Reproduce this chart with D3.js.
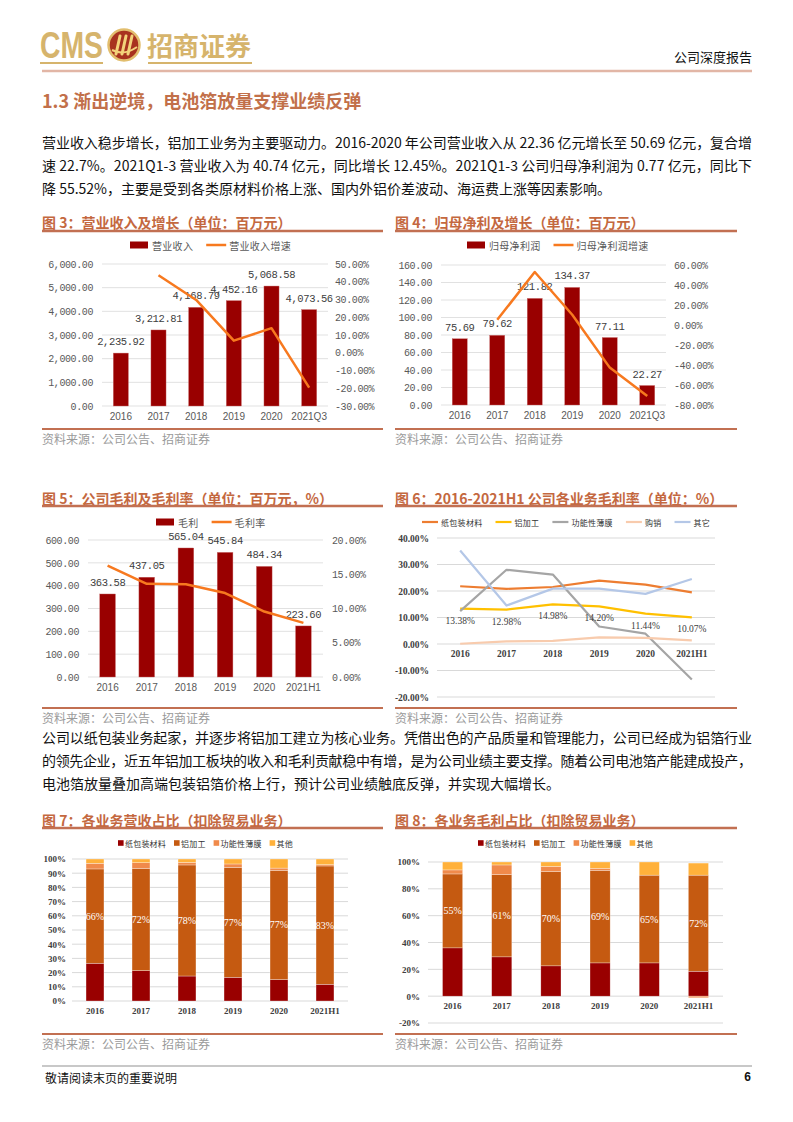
<!DOCTYPE html>
<html><head><meta charset="utf-8">
<script src="https://cdn.jsdelivr.net/npm/d3@7"></script>
<style>body{margin:0;background:#fff}</style>
</head><body><svg id="page" width="793" height="1122" xmlns="http://www.w3.org/2000/svg"></svg>
<script>
// ---------------- data ----------------
const yearsQ3 = ["2016","2017","2018","2019","2020","2021Q3"];
const yearsH1 = ["2016","2017","2018","2019","2020","2021H1"];
const revenue = [2235.92,3212.81,4168.79,4452.16,5068.58,4073.56];
const revenueGrowth = [null,43.69,29.74,6.80,13.85,-19.63];
const netProfit = [75.69,79.62,121.82,134.37,77.11,22.27];
const netProfitGrowth = [null,5.19,53.00,10.30,-42.61,-71.12];
const grossProfit = [363.58,437.05,565.04,545.84,484.34,223.60];
const grossMargin = [16.26,13.60,13.55,12.26,9.56,7.90];

const segNames6 = ["纸包装材料","铝加工","功能性薄膜","购销","其它"];
const marginPaper = [21.8,20.8,21.5,23.9,22.4,19.5];
const marginAlu = [13.38,12.98,14.98,14.20,11.44,10.07];
const marginFilm = [12.4,28.0,26.2,6.6,3.9,-13.4];
const marginTrade = [0.1,1.0,1.2,2.5,2.3,1.4];
const marginOther = [35.3,14.5,20.9,20.9,18.9,24.5];

const segNames = ["纸包装材料","铝加工","功能性薄膜","其他"];
const revSharePaper = [26.6,21.4,17.6,16.7,15.1,11.8];
const revShareAlu = [66.4,72.0,78.2,77.4,76.9,83.3];
const revShareFilm = [4.0,4.0,1.8,2.4,1.6,0.9];
const revShareOther = [3.0,2.6,2.4,3.5,6.4,4.0];
const gpSharePaper = [36.0,29.3,22.6,24.8,24.8,18.6];
const gpShareAlu = [55.1,61.3,70.4,69.0,65.4,71.6];
const gpShareFilm = [3.0,7.2,3.7,1.5,0.0,-1.2];
const gpShareOther = [5.9,2.2,3.3,4.7,9.8,9.0];

const para1 = [
 "营业收入稳步增长，铝加工业务为主要驱动力。2016-2020 年公司营业收入从 22.36 亿元增长至 50.69 亿元，复合增",
 "速 22.7%。2021Q1-3 营业收入为 40.74 亿元，同比增长 12.45%。2021Q1-3 公司归母净利润为 0.77 亿元，同比下",
 "降 55.52%，主要是受到各类原材料价格上涨、国内外铝价差波动、海运费上涨等因素影响。"
];
const para2 = [
 "公司以纸包装业务起家，并逐步将铝加工建立为核心业务。凭借出色的产品质量和管理能力，公司已经成为铝箔行业",
 "的领先企业，近五年铝加工板块的收入和毛利贡献稳中有增，是为公司业绩主要支撑。随着公司电池箔产能建成投产，",
 "电池箔放量叠加高端包装铝箔价格上行，预计公司业绩触底反弹，并实现大幅增长。"
];

// ---------------- styles ----------------
const CJK = "'Noto Sans CJK SC','Noto Sans',sans-serif";
const MONO = "'Liberation Mono','DejaVu Sans Mono',monospace";
const SERIF = "'Liberation Serif','Times New Roman',serif";
const ARIAL = "'Liberation Sans',Arial,sans-serif";
const GOLD = "#d6b46c", TITLE = "#c4683f", RULE = "#c27052";
const BAR = "#990000", LINE = "#f7791f";

const svg = d3.select("#page");
svg.append("rect").attr("width",793).attr("height",1122).attr("fill","#fff");

function txt(g,x,y,s,o={}){
  const t=g.append("text").attr("x",x).attr("y",y).attr("dominant-baseline","central").text(s);
  for(const k in o) t.attr(k,o[k]);
  return t;
}

// ---------------- header ----------------
txt(svg,40,45,"CMS",{"font-family":ARIAL,"font-weight":"bold","font-size":36,fill:GOLD,textLength:63,lengthAdjust:"spacingAndGlyphs"});
svg.append("rect").attr("x",40).attr("y",62).attr("width",63).attr("height",2).attr("fill",GOLD);
svg.append("circle").attr("cx",124).attr("cy",45).attr("r",15.5).attr("fill","#a8321f").attr("stroke","#e2be6e").attr("stroke-width",2.5);
// emblem strokes
[-6,0,6].forEach(dx=>svg.append("path")
  .attr("d",`M${124+dx+2},${36} L${124+dx-2},${54}`)
  .attr("stroke","#f3d27a").attr("stroke-width",3).attr("stroke-linecap","round"));
svg.append("path").attr("d","M112,50 Q124,56 137,47").attr("fill","none").attr("stroke","#f3d27a").attr("stroke-width",2);
txt(svg,147,44,"招商证券",{"font-family":CJK,"font-weight":"bold","font-size":26,fill:GOLD,textLength:104,lengthAdjust:"spacingAndGlyphs"});
svg.append("rect").attr("x",148).attr("y",62).attr("width",104).attr("height",2).attr("fill",GOLD);
txt(svg,752,56,"公司深度报告",{"font-family":CJK,"font-size":13,fill:"#111","text-anchor":"end"});
svg.append("line").attr("x1",42).attr("x2",752).attr("y1",71).attr("y2",71).attr("stroke","#e2b6a6").attr("stroke-width",2.5);

txt(svg,42,100,"1.3 渐出逆境，电池箔放量支撑业绩反弹",{"font-family":CJK,"font-weight":"bold","font-size":18,fill:"#c2704a"});

function paragraph(lines,y0){
  lines.forEach((s,i)=>{
    const t=txt(svg,42,y0+i*23,s,{"font-family":CJK,"font-size":14,fill:"#111"});
    if(i<lines.length-1) t.attr("textLength",710).attr("lengthAdjust","spacing");
  });
}
paragraph(para1,142);
paragraph(para2,737);

// ---------------- title / source blocks ----------------
function titleBlock(x0,x1,yT,yL,s){
  txt(svg,x0,yT,s,{"font-family":CJK,"font-weight":"bold","font-size":14,fill:TITLE});
  svg.append("line").attr("x1",x0).attr("x2",x1).attr("y1",yL).attr("y2",yL).attr("stroke",RULE).attr("stroke-width",2.5);
}
function sourceBlock(x0,x1,yL,yT){
  svg.append("line").attr("x1",x0).attr("x2",x1).attr("y1",yL).attr("y2",yL).attr("stroke",RULE).attr("stroke-width",2);
  txt(svg,x0,yT,"资料来源：公司公告、招商证券",{"font-family":CJK,"font-size":12,fill:"#9a9a9a"});
}
titleBlock(42,383,222,231,"图 3：营业收入及增长（单位：百万元）");
titleBlock(395,737,222,231,"图 4：归母净利及增长（单位：百万元）");
titleBlock(42,383,498,506,"图 5：公司毛利及毛利率（单位：百万元，%）");
titleBlock(395,737,498,506,"图 6：2016-2021H1 公司各业务毛利率（单位：%）");
titleBlock(42,383,820,828,"图 7：各业务营收占比（扣除贸易业务）");
titleBlock(395,737,820,828,"图 8：各业务毛利占比（扣除贸易业务）");
sourceBlock(42,383,429,438); sourceBlock(395,737,429,438);
sourceBlock(42,383,708,717); sourceBlock(395,737,708,717);
sourceBlock(42,383,1034,1043); sourceBlock(395,737,1034,1043);

// ---------------- combo bar + line ----------------
function combo(o){
  const g=svg.append("g");
  const x=d3.scaleBand().domain(o.cats).range([o.x0,o.x1]);
  const cx=c=>x(c)+x.bandwidth()/2;
  const yL=d3.scaleLinear().domain(o.lDom).range([o.yBot,o.yTop]);
  const yR=d3.scaleLinear().domain(o.rDom).range([o.yBot,o.yTop]);
  const lTicks=d3.range(o.lDom[0],o.lDom[1]+1e-9,o.lStep);
  const rTicks=d3.range(o.rDom[0],o.rDom[1]+1e-9,o.rStep);
  g.selectAll("line.grid").data(lTicks).join("line").attr("class","grid")
    .attr("x1",o.x0).attr("x2",o.x1).attr("y1",d=>yL(d)).attr("y2",d=>yL(d))
    .attr("stroke","#d9d9d9").attr("stroke-width",0.8);
  const aL=g.append("g").attr("transform",`translate(${o.x0},0)`)
    .call(d3.axisLeft(yL).tickValues(lTicks).tickFormat(o.lFmt).tickSize(0).tickPadding(9));
  const aR=g.append("g").attr("transform",`translate(${o.x1},0)`)
    .call(d3.axisRight(yR).tickValues(rTicks).tickFormat(o.rFmt).tickSize(0).tickPadding(o.rPad));
  [aL,aR].forEach(a=>{a.select(".domain").remove();
    a.attr("font-family",MONO).attr("font-size",10).attr("letter-spacing",-0.4).attr("color","#595959");});
  const aB=g.append("g").attr("transform",`translate(0,${o.yBot})`)
    .call(d3.axisBottom(x).tickSize(0).tickPadding(7));
  aB.select(".domain").remove();
  aB.attr("font-family",ARIAL).attr("font-size",10).attr("color","#595959");
  const bw=x.bandwidth()*0.4;
  g.selectAll("rect.bar").data(o.bars).join("rect").attr("class","bar")
    .attr("x",(d,i)=>cx(o.cats[i])-bw/2).attr("width",bw)
    .attr("y",d=>yL(d)).attr("height",d=>yL(0)-yL(d)).attr("fill",BAR)
    .attr("stroke","#c86a6a").attr("stroke-width",0.4);
  g.selectAll("text.lbl").data(o.bars).join("text").attr("class","lbl")
    .attr("x",(d,i)=>cx(o.cats[i])).attr("y",d=>yL(d)-11)
    .attr("text-anchor","middle").attr("dominant-baseline","central")
    .attr("font-family",MONO).attr("font-size",10.5).attr("letter-spacing",-0.4).attr("fill","#404040")
    .text(d=>d3.format(",.2f")(d));
  const ln=d3.line().defined(d=>d!=null).x((d,i)=>cx(o.cats[i])).y(d=>yR(d));
  g.append("path").datum(o.line).attr("d",ln).attr("fill","none").attr("stroke",LINE).attr("stroke-width",2.5).attr("stroke-linejoin","round");
  // legend
  const lg=g.append("g").attr("font-family",CJK).attr("font-size",10).attr("letter-spacing",0.3).attr("fill","#595959");
  lg.append("rect").attr("x",o.legX).attr("y",o.legY-3.5).attr("width",18).attr("height",7).attr("fill",BAR);
  const t1=txt(lg,o.legX+22,o.legY,o.barName);
  const e1=o.legX+22+t1.node().getComputedTextLength()+13;
  lg.append("line").attr("x1",e1).attr("x2",e1+20).attr("y1",o.legY).attr("y2",o.legY).attr("stroke",LINE).attr("stroke-width",2.5);
  txt(lg,e1+23,o.legY,o.lineName);
}
const pct2=d=>d.toFixed(2)+"%";
combo({cats:yearsQ3,bars:revenue,line:revenueGrowth,x0:102,x1:328,yTop:264,yBot:406,
  lDom:[0,6000],lStep:1000,rDom:[-30,50],rStep:10,lFmt:d3.format(",.2f"),rFmt:pct2,rPad:7,
  legX:130,legY:245,barName:"营业收入",lineName:"营业收入增速"});
combo({cats:yearsQ3,bars:netProfit,line:netProfitGrowth,x0:441,x1:666,yTop:265,yBot:405,
  lDom:[0,160],lStep:20,rDom:[-80,60],rStep:20,lFmt:d3.format(",.2f"),rFmt:pct2,rPad:8,
  legX:467,legY:245,barName:"归母净利润",lineName:"归母净利润增速"});
combo({cats:yearsH1,bars:grossProfit,line:grossMargin,x0:88,x1:323,yTop:540,yBot:677,
  lDom:[0,600],lStep:100,rDom:[0,20],rStep:5,lFmt:d3.format(",.2f"),rFmt:pct2,rPad:9,
  legX:156,legY:522,barName:"毛利",lineName:"毛利率"});

// ---------------- chart 6: multi-line ----------------
(function(){
  const g=svg.append("g");
  const x0=437,x1=715;
  const x=d3.scaleBand().domain(yearsH1).range([x0,x1]);
  const cx=c=>x(c)+x.bandwidth()/2;
  const y=d3.scaleLinear().domain([-20,40]).range([697,538]);
  const ticks=d3.range(-20,40.01,10);
  g.selectAll("line.grid").data(ticks).join("line").attr("x1",x0).attr("x2",x1)
    .attr("y1",d=>y(d)).attr("y2",d=>y(d)).attr("stroke","#d9d9d9").attr("stroke-width",1);
  const aL=g.append("g").attr("transform",`translate(${x0},0)`)
    .call(d3.axisLeft(y).tickValues(ticks).tickFormat(pct2).tickSize(0).tickPadding(8));
  aL.select(".domain").remove();
  aL.attr("font-family",SERIF).attr("font-size",9.5).attr("font-weight","bold").attr("color","#404040");
  const aB=g.append("g").attr("transform",`translate(0,${y(0)})`)
    .call(d3.axisBottom(x).tickSize(0).tickPadding(0));
  aB.select(".domain").remove();
  aB.attr("font-family",SERIF).attr("font-size",9.5).attr("font-weight","bold").attr("color","#404040");
  aB.selectAll("text").attr("dy",null).attr("y",10).attr("dominant-baseline","central");
  const series=[marginPaper,marginAlu,marginFilm,marginTrade,marginOther];
  const colors=["#ed7d31","#ffc000","#a5a5a5","#f8cbad","#b4c7e7"];
  const ln=d3.line().x((d,i)=>cx(yearsH1[i])).y(d=>y(d));
  series.forEach((s,k)=>g.append("path").datum(s).attr("d",ln).attr("fill","none")
    .attr("stroke",colors[k]).attr("stroke-width",2.2).attr("stroke-linejoin","round"));
  g.selectAll("text.lbl").data(marginAlu).join("text").attr("x",(d,i)=>cx(yearsH1[i])).attr("y",d=>y(d)+12)
    .attr("text-anchor","middle").attr("dominant-baseline","central")
    .attr("font-family",SERIF).attr("font-size",9.5).attr("fill","#404040").text(d=>d.toFixed(2)+"%");
  // legend
  const lg=g.append("g").attr("font-family",CJK).attr("font-size",8).attr("letter-spacing",0.3).attr("fill","#333");
  let lx=422;const ly=522;
  segNames6.forEach((n,k)=>{
    lg.append("line").attr("x1",lx).attr("x2",lx+16).attr("y1",ly).attr("y2",ly).attr("stroke",colors[k]).attr("stroke-width",2.2);
    const t=txt(lg,lx+19,ly,n);
    lx=lx+19+t.node().getComputedTextLength()+13;
  });
})();

// ---------------- stacked charts ----------------
function stacked(o){
  const g=svg.append("g");
  const x=d3.scaleBand().domain(yearsH1).range([o.x0,o.x1]);
  const y=d3.scaleLinear().domain(o.dom).range([o.yBot,o.yTop]);
  const ticks=d3.range(o.dom[0],o.dom[1]+1e-9,o.step);
  g.selectAll("line.grid").data(ticks).join("line").attr("x1",o.x0).attr("x2",o.x1)
    .attr("y1",d=>y(d)).attr("y2",d=>y(d)).attr("stroke","#d9d9d9").attr("stroke-width",1);
  const aL=g.append("g").attr("transform",`translate(${o.x0},0)`)
    .call(d3.axisLeft(y).tickValues(ticks).tickFormat(d=>d+"%").tickSize(0).tickPadding(o.pad));
  aL.select(".domain").remove();
  aL.attr("font-family",SERIF).attr("font-size",9).attr("font-weight","bold").attr("color","#404040");
  const aB=g.append("g").attr("transform",`translate(0,${y(0)})`).call(d3.axisBottom(x).tickSize(0));
  aB.select(".domain").remove();
  aB.attr("font-family",SERIF).attr("font-size",9).attr("font-weight","bold").attr("color","#404040");
  aB.selectAll("text").attr("dy",null).attr("y",10).attr("dominant-baseline","central");
  const rows=yearsH1.map((c,i)=>{const r={cat:c};segNames.forEach((k,j)=>r[k]=o.series[j][i]);return r;});
  const st=d3.stack().keys(segNames).offset(d3.stackOffsetDiverging)(rows);
  const colors=["#990000","#c55a11","#f08a4b","#ffb13b"];
  const bw=x.bandwidth()*o.ratio;
  st.forEach((layer,k)=>{
    g.selectAll(null).data(layer).join("rect")
      .attr("x",d=>x(d.data.cat)+(x.bandwidth()-bw)/2).attr("width",bw)
      .attr("y",d=>y(Math.max(d[0],d[1]))).attr("height",d=>Math.abs(y(d[0])-y(d[1])))
      .attr("fill",colors[k]).attr("stroke","#fff").attr("stroke-width",0.5).attr("stroke-opacity",0.6);
  });
  g.selectAll(null).data(st[1]).join("text")
    .attr("x",d=>x(d.data.cat)+x.bandwidth()/2).attr("y",d=>y((d[0]+d[1])/2))
    .attr("text-anchor","middle").attr("dominant-baseline","central")
    .attr("font-family",SERIF).attr("font-size",10).attr("fill","#fff")
    .text(d=>d3.format(".0f")(d[1]-d[0])+"%");
  const lg=g.append("g").attr("font-family",CJK).attr("font-size",8).attr("letter-spacing",0.2).attr("fill","#333");
  let lx=o.legX;const ly=o.legY;
  segNames.forEach((n,k)=>{
    lg.append("rect").attr("x",lx).attr("y",ly-2.8).attr("width",5.6).attr("height",5.6).attr("fill",colors[k]);
    const t=txt(lg,lx+7,ly,n);
    lx=lx+7+t.node().getComputedTextLength()+8;
  });
}
stacked({x0:72,x1:348,yTop:859,yBot:1001,dom:[0,100],step:10,pad:6,ratio:0.39,legX:118,legY:843,
  series:[revSharePaper,revShareAlu,revShareFilm,revShareOther]});
stacked({x0:428,x1:723,yTop:862,yBot:1023,dom:[-20,100],step:20,pad:8,ratio:0.41,legX:478,legY:843,
  series:[gpSharePaper,gpShareAlu,gpShareFilm,gpShareOther]});

// ---------------- footer ----------------
svg.append("line").attr("x1",42).attr("x2",752).attr("y1",1066).attr("y2",1066).attr("stroke","#c8c8c8").attr("stroke-width",2);
txt(svg,45,1077,"敬请阅读末页的重要说明",{"font-family":CJK,"font-size":12,fill:"#111"});
txt(svg,751,1077,"6",{"font-family":ARIAL,"font-weight":"bold","font-size":12,fill:"#111","text-anchor":"end"});
</script></body></html>
